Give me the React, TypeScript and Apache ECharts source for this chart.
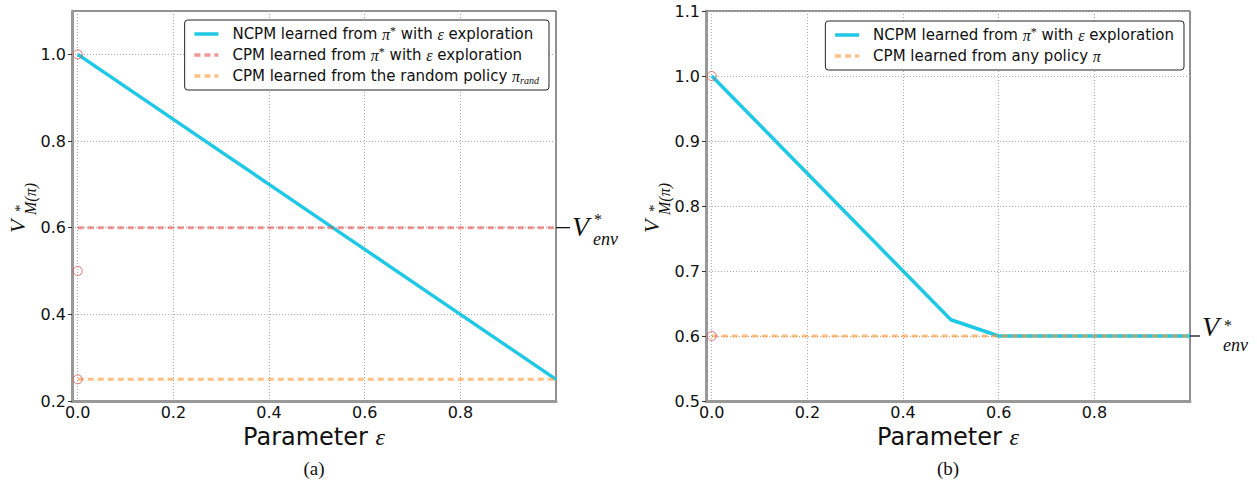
import React, { useEffect, useRef } from 'react';
import * as echarts from 'echarts';

// ---------- data ----------
const epsilon = [0, 0.1, 0.2, 0.3, 0.4, 0.5, 0.6, 0.7, 0.8, 0.9, 1.0];
const ncpmA = [1.0, 0.925, 0.85, 0.775, 0.7, 0.625, 0.55, 0.475, 0.4, 0.325, 0.25];
const cpmOptA = [0.6, 0.6, 0.6, 0.6, 0.6, 0.6, 0.6, 0.6, 0.6, 0.6, 0.6];
const cpmRandA = [0.25, 0.25, 0.25, 0.25, 0.25, 0.25, 0.25, 0.25, 0.25, 0.25, 0.25];
const circlesA = [[0, 1.0], [0, 0.5], [0, 0.25]];
const ncpmB = [1.0, 0.925, 0.85, 0.775, 0.7, 0.625, 0.6, 0.6, 0.6, 0.6, 0.6];
const cpmB = [0.6, 0.6, 0.6, 0.6, 0.6, 0.6, 0.6, 0.6, 0.6, 0.6, 0.6];
const circlesB = [[0, 1.0], [0, 0.6]];
const xTicks = [0, 0.2, 0.4, 0.6, 0.8];
const yTicksA = [0.2, 0.4, 0.6, 0.8, 1.0];
const yTicksB = [0.5, 0.6, 0.7, 0.8, 0.9, 1.0, 1.1];
const vEnvA = 0.6;
const vEnvB = 0.6;

const NAME_NCPM = 'NCPM learned from π* with ε exploration';
const NAME_CPM_OPT = 'CPM learned from π* with ε exploration';
const NAME_CPM_RAND = 'CPM learned from the random policy π_rand';
const NAME_CPM_ANY = 'CPM learned from any policy π';
const legendRich: Record<string, string> = {
  [NAME_NCPM]: '{g|}NCPM learned from {m|π}{s|*} with {m|ε} exploration',
  [NAME_CPM_OPT]: '{g|}CPM learned from {m|π}{s|*} with {m|ε} exploration',
  [NAME_CPM_RAND]: '{g|}CPM learned from the random policy {m|π}{sub|rand}',
  [NAME_CPM_ANY]: '{g|}CPM learned from any policy {m|π}',
};

// ---------- style ----------
const SERIF = "'Liberation Serif', 'DejaVu Serif', serif";
const SANS = "'DejaVu Sans', sans-serif";
const CYAN = '#1fc8e4';
const RED = 'rgba(235,80,80,0.6)';
const ORANGE = 'rgba(255,150,50,0.6)';
const GA = { left: 72, top: 11, width: 484, height: 390 };
const GB = { left: 706, top: 11, width: 484, height: 390 };
const X_MIN = -0.012;
const X_MAX = 1.0;

const pairs = (ys: number[]) => epsilon.map((x, i) => [x, ys[i]]);

function xAxis(gridIndex: number) {
  return {
    type: 'value',
    gridIndex,
    min: X_MIN,
    max: X_MAX,
    name: 'Parameter {e|ε}',
    nameLocation: 'middle',
    nameGap: 24,
    nameTextStyle: {
      fontSize: 24,
      fontFamily: SANS,
      color: '#111',
      rich: { e: { fontFamily: SERIF, fontStyle: 'italic', fontSize: 24, color: '#111' } },
    },
    axisLine: { show: true, onZero: false, lineStyle: { color: '#999', width: 3 } },
    axisTick: { show: false, customValues: xTicks },
    axisLabel: {
      customValues: xTicks,
      formatter: (v: number) => v.toFixed(1),
      fontSize: 16,
      fontFamily: SANS,
      color: '#111',
      margin: 3,
    },
    splitLine: { show: true, lineStyle: { color: '#aaa', width: 1, type: [1, 2] } },
  };
}

function yAxis(gridIndex: number, min: number, max: number, ticks: number[]) {
  return {
    type: 'value',
    gridIndex,
    min,
    max,
    axisLine: { show: true, onZero: false, lineStyle: { color: '#999', width: 3 } },
    axisTick: { show: true, customValues: ticks, length: 4, lineStyle: { color: '#333', width: 1 } },
    axisLabel: {
      customValues: ticks,
      formatter: (v: number) => v.toFixed(1),
      fontSize: 16,
      fontFamily: SANS,
      color: '#111',
      margin: 6,
    },
    splitLine: { show: true, lineStyle: { color: '#aaa', width: 1, type: [1, 2] } },
  };
}

function legend(right: number, top: number, data: string[]) {
  return {
    orient: 'vertical',
    right,
    top,
    itemWidth: 24,
    itemHeight: 14,
    itemGap: 3,
    padding: [5, 10, 5, 8],
    borderColor: '#222',
    borderWidth: 1,
    borderRadius: 3,
    backgroundColor: '#fff',
    selectedMode: false,
    data,
    itemStyle: { color: 'transparent', borderColor: 'transparent', borderWidth: 0 },
    lineStyle: { width: 3.5 },
    formatter: (name: string) => legendRich[name] || name,
    textStyle: {
      fontSize: 15,
      fontFamily: SANS,
      color: '#111',
      lineHeight: 18,
      rich: {
        g: { width: 9 },
        m: { fontFamily: SERIF, fontStyle: 'italic', fontSize: 16, color: '#111', lineHeight: 18 },
        s: { fontFamily: SERIF, fontSize: 12, color: '#111', verticalAlign: 'top', lineHeight: 18 },
        sub: { fontFamily: SERIF, fontStyle: 'italic', fontSize: 10, color: '#111', verticalAlign: 'bottom', lineHeight: 18 },
      },
    },
  };
}

function circleSeries(idx: number, data: number[][]) {
  return {
    type: 'scatter',
    name: 'start',
    xAxisIndex: idx,
    yAxisIndex: idx,
    data,
    symbol: 'circle',
    symbolSize: 9,
    itemStyle: { color: 'transparent', borderColor: '#dd5555', borderWidth: 1 },
    z: 5,
    silent: true,
  };
}

function yName(ax: number, ay: number) {
  return {
    type: 'group',
    x: ax,
    y: ay,
    rotation: Math.PI / 2,
    children: [
      { type: 'text', x: 0, y: -7.7, style: { text: 'V', font: `italic 22px ${SERIF}`, fill: '#111', align: 'left', verticalAlign: 'middle' } },
      {
        type: 'text', x: 18, y: -10.75,
        style: {
          text: '{a|*}\n{b|M(π)}',
          align: 'left',
          verticalAlign: 'top',
          rich: {
            a: { font: `15px ${SERIF}`, fill: '#111', lineHeight: 10.5, padding: [0, 0, 0, 3] },
            b: { font: `italic 16px ${SERIF}`, fill: '#111', lineHeight: 10.5 },
          },
        },
      },
    ],
  };
}

function vEnv(px: number[], dV: number, dTop: number, lineLen: number) {
  const [x, y] = px;
  return {
    type: 'group',
    children: [
      { type: 'line', shape: { x1: x, y1: y, x2: x + lineLen, y2: y }, style: { stroke: '#000', lineWidth: 1.2 } },
      { type: 'text', x: x + lineLen + 2, y: y + dV, style: { text: 'V', font: `italic 28px ${SERIF}`, fill: '#111', align: 'left', verticalAlign: 'middle' } },
      {
        type: 'text', x: x + lineLen + 23, y: y + dTop,
        style: {
          text: '{a|*}\n{b|env}',
          align: 'left',
          verticalAlign: 'top',
          rich: {
            a: { font: `16px ${SERIF}`, fill: '#111', lineHeight: 19, padding: [0, 0, 0, 1] },
            b: { font: `italic 18px ${SERIF}`, fill: '#111', lineHeight: 19 },
          },
        },
      },
    ],
  };
}

export default function App() {
  const ref = useRef<HTMLDivElement>(null);
  useEffect(() => {
    if (!ref.current) return;
    const chart = echarts.init(ref.current, undefined, { renderer: 'svg' });
    chart.setOption({
      animation: false,
      backgroundColor: '#fff',
      grid: [
        { ...GA, show: true, borderColor: '#222', borderWidth: 1, backgroundColor: 'transparent' },
        { ...GB, show: true, borderColor: '#222', borderWidth: 1, backgroundColor: 'transparent' },
      ],
      xAxis: [xAxis(0), xAxis(1)],
      yAxis: [yAxis(0, 0.2, 1.1, yTicksA), yAxis(1, 0.5, 1.1, yTicksB)],
      legend: [
        legend(1257 - 549, 20, [NAME_NCPM, NAME_CPM_OPT, NAME_CPM_RAND]),
        legend(1257 - 1184, 21, [NAME_NCPM, NAME_CPM_ANY]),
      ],
      series: [
        {
          type: 'line', name: NAME_NCPM, xAxisIndex: 0, yAxisIndex: 0, data: pairs(ncpmA),
          symbol: 'none', lineStyle: { color: CYAN, width: 3.5 }, itemStyle: { color: CYAN }, z: 2,
        },
        {
          type: 'line', name: NAME_CPM_OPT, xAxisIndex: 0, yAxisIndex: 0, data: pairs(cpmOptA),
          symbol: 'none', lineStyle: { color: RED, width: 3, type: [6, 4] }, itemStyle: { color: RED }, z: 3,
        },
        {
          type: 'line', name: NAME_CPM_RAND, xAxisIndex: 0, yAxisIndex: 0, data: pairs(cpmRandA),
          symbol: 'none', lineStyle: { color: ORANGE, width: 3, type: [6, 4] }, itemStyle: { color: ORANGE }, z: 3,
        },
        circleSeries(0, circlesA),
        {
          type: 'line', name: NAME_NCPM, xAxisIndex: 1, yAxisIndex: 1, data: pairs(ncpmB),
          symbol: 'none', lineStyle: { color: CYAN, width: 3.5 }, itemStyle: { color: CYAN }, z: 2,
        },
        {
          type: 'line', name: NAME_CPM_ANY, xAxisIndex: 1, yAxisIndex: 1, data: pairs(cpmB),
          symbol: 'none', lineStyle: { color: ORANGE, width: 3, type: [6, 4] }, itemStyle: { color: ORANGE }, z: 3,
        },
        circleSeries(1, circlesB),
      ],
    });

    const pA = chart.convertToPixel({ gridIndex: 0 }, [X_MAX, vEnvA]) as number[];
    const pB = chart.convertToPixel({ gridIndex: 1 }, [X_MAX, vEnvB]) as number[];
    const midA = GA.top + GA.height / 2;
    const midB = GB.top + GB.height / 2;
    chart.setOption({
      graphic: [
        yName(GA.left - 47, midA + 27),
        yName(GB.left - 47, midB + 27),
        vEnv(pA, -1.5, -17.5, 14),
        vEnv(pB, -9.5, -20, 10),
        { type: 'text', x: GA.left + GA.width / 2, y: 468, style: { text: '(a)', font: `19px ${SERIF}`, fill: '#111', align: 'center', verticalAlign: 'middle' } },
        { type: 'text', x: GB.left + GB.width / 2, y: 468, style: { text: '(b)', font: `19px ${SERIF}`, fill: '#111', align: 'center', verticalAlign: 'middle' } },
      ],
    });

    return () => chart.dispose();
  }, []);
  return <div ref={ref} style={{ position: 'absolute', left: 0, top: 0, width: 1257, height: 485 }} />;
}
